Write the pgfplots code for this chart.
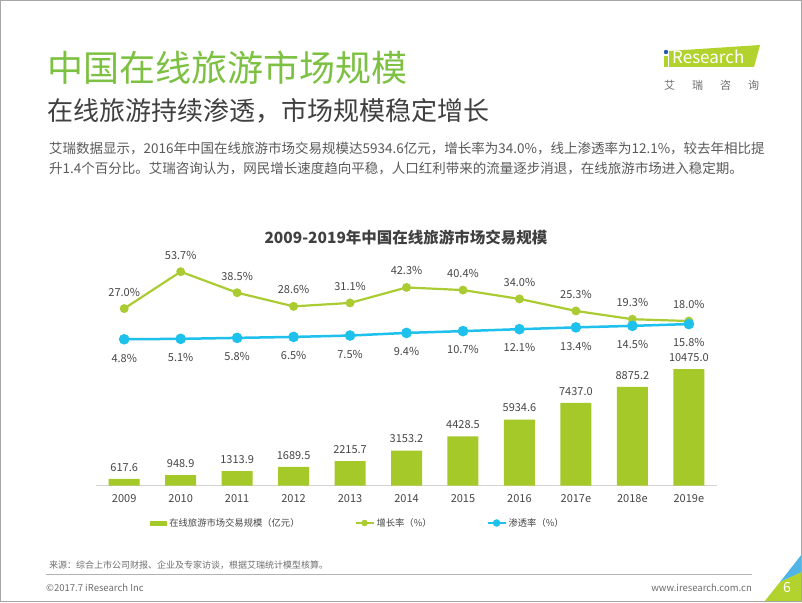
\documentclass[border=0pt]{standalone}
\usepackage{fontspec}
\setmainfont{Noto Sans CJK SC}
\usepackage{pgfplots}
\pgfplotsset{compat=1.18}
\definecolor{barg}{RGB}{166,201,42}
\definecolor{lineg}{RGB}{170,204,50}
\definecolor{lineb}{RGB}{30,192,236}
\definecolor{titleg}{RGB}{125,193,66}
\definecolor{subg}{RGB}{64,64,64}
\definecolor{parg}{RGB}{89,89,89}
\definecolor{labg}{RGB}{70,70,70}
\definecolor{axisgray}{RGB}{210,210,210}
\definecolor{logog}{RGB}{178,210,45}
\definecolor{logob}{RGB}{40,90,170}
\definecolor{footg}{RGB}{110,110,110}
\definecolor{cornb}{RGB}{80,180,230}
\begin{document}
\begin{tikzpicture}[x=1pt,y=1pt]
\path[use as bounding box] (0,0) rectangle (802,602);
\fill[white] (0,0) rectangle (802,602);

% headings
\node[anchor=west, inner sep=0, text=titleg, font=\fontsize{36}{40}\selectfont] at (47,534) {中国在线旅游市场规模};
\node[anchor=west, inner sep=0, text=subg, font=\fontsize{26}{30}\selectfont] at (47,491.5) {在线旅游持续渗透，市场规模稳定增长};
\node[anchor=north west, inner sep=0, align=left, text=parg, font=\fontsize{13.5}{19.5}\selectfont] at (49,460) {艾瑞数据显示，2016年中国在线旅游市场交易规模达5934.6亿元，增长率为34.0\%，线上渗透率为12.1\%，较去年相比提\\升1.4个百分比。艾瑞咨询认为，网民增长速度趋向平稳，人口红利带来的流量逐步消退，在线旅游市场进入稳定期。};

% logo
\fill[logog] (669,551) -- (760,557) -- (754,535) -- (669,535) -- cycle;
\fill[logog] (664,535) rectangle (668,546);
\fill[logob] (666,550) circle (2.2);
\node[anchor=west, inner sep=0, text=white, font=\fontsize{17}{19}\selectfont] at (672,545) {Research};
\node[anchor=west, inner sep=0, text=footg, font=\fontsize{11}{13}\selectfont] at (664,517) {艾\hspace{17pt}瑞\hspace{17pt}咨\hspace{17pt}询};

% chart title
\node[inner sep=0, text=subg, font=\fontsize{15.5}{18}\selectfont\bfseries] at (406,364) {2009-2019年中国在线旅游市场交易规模};

% bars
\begin{axis}[at={(95.97pt,116.3pt)}, anchor=south west, scale only axis,
  width=621.1pt, height=130pt, xmin=-0.5, xmax=10.5, ymin=0, ymax=11670,
  axis y line=none, axis x line*=bottom,
  x axis line style={draw=axisgray, line width=1.2pt, -},
  xtick={0,...,10}, xticklabels={2009,2010,2011,2012,2013,2014,2015,2016,2017e,2018e,2019e},
  major tick length=0pt,
  /pgf/number format/assume math mode=true,
  xticklabel style={font=\fontsize{11}{13}\selectfont, text=labg, yshift=-5pt},
  ybar, bar width=31pt, clip=false,
  nodes near coords={\pgfmathprintnumber[fixed,fixed zerofill,precision=1,1000 sep={},assume math mode=true]{\pgfplotspointmeta}},
  every node near coord/.append style={font=\fontsize{11}{13}\selectfont, text=labg, yshift=4pt},
  legend columns=3,
  legend style={at={(0.4219,-0.287)}, anchor=center, draw=none, fill=none,
    font=\fontsize{9.3}{11}\selectfont, text=labg,
    /tikz/every even column/.append style={column sep=53pt}},
  legend cell align=left]
\addplot[fill=barg, draw=none,
  legend image code/.code={\fill[barg] (0pt,-2.5pt) rectangle (17pt,2.5pt);}]
  coordinates {(0,617.6) (1,948.9) (2,1313.9) (3,1689.5) (4,2215.7) (5,3153.2) (6,4428.5) (7,5934.6) (8,7437.0) (9,8875.2) (10,10475.0)};
\addlegendentry{在线旅游市场交易规模（亿元）}
\addlegendimage{legend image code/.code={\draw[lineg, line width=2pt] (0pt,0pt) -- (18pt,0pt); \fill[lineg] (9pt,0pt) circle (3pt);}}
\addlegendentry{增长率（\%）}
\addlegendimage{legend image code/.code={\draw[lineb, line width=2pt] (0pt,0pt) -- (18pt,0pt); \fill[lineb] (9pt,0pt) circle (3.5pt);}}
\addlegendentry{渗透率（\%）}
\end{axis}

% lines
\begin{axis}[at={(95.97pt,256.1pt)}, anchor=south west, scale only axis,
  width=621.1pt, height=82.9pt, xmin=-0.5, xmax=10.5, ymin=0, ymax=60,
  hide axis, clip=false,
  /pgf/number format/assume math mode=true,
  nodes near coords={\pgfmathprintnumber[fixed,fixed zerofill,precision=1,assume math mode=true]{\pgfplotspointmeta}\%},
  every node near coord/.append style={font=\fontsize{11}{13}\selectfont, text=labg}]
\addplot[color=lineg, line width=2.2pt, mark=*, mark size=3.3pt,
  every node near coord/.append style={yshift=8pt}]
  coordinates {(0,27.0) (1,53.7) (2,38.5) (3,28.6) (4,31.1) (5,42.3) (6,40.4) (7,34.0) (8,25.3) (9,19.3) (10,18.0)};
\addplot[color=lineb, line width=2.5pt, mark=*, mark size=4pt,
  nodes near coords align={below},
  every node near coord/.append style={yshift=-10pt}]
  coordinates {(0,4.8) (1,5.1) (2,5.8) (3,6.5) (4,7.5) (5,9.4) (6,10.7) (7,12.1) (8,13.4) (9,14.5) (10,15.8)};
\end{axis}

% footer
\node[anchor=west, inner sep=0, text=footg, font=\fontsize{9}{11}\selectfont] at (49,37) {来源：综合上市公司财报、企业及专家访谈，根据艾瑞统计模型核算。};
\draw[gray!60, line width=0.8pt] (46,27.5) -- (752,27.5);
\node[anchor=west, inner sep=0, text=footg, font=\fontsize{9.5}{11}\selectfont] at (46,14) {©2017.7 iResearch Inc};
\node[anchor=east, inner sep=0, text=footg, font=\fontsize{9.5}{11}\selectfont] at (752,14) {www.iresearch.com.cn};
\fill[cornb] (780,20) -- (802,48) -- (802,30) -- cycle;
\fill[logog] (764,0) -- (802,0) -- (802,30) -- (780,20) -- cycle;
\node[inner sep=0, text=white, font=\fontsize{14}{16}\selectfont] at (787,14) {6};
\draw[gray!70, line width=1pt] (0.5,0.5) rectangle (801.5,601.5);
\end{tikzpicture}
\end{document}
